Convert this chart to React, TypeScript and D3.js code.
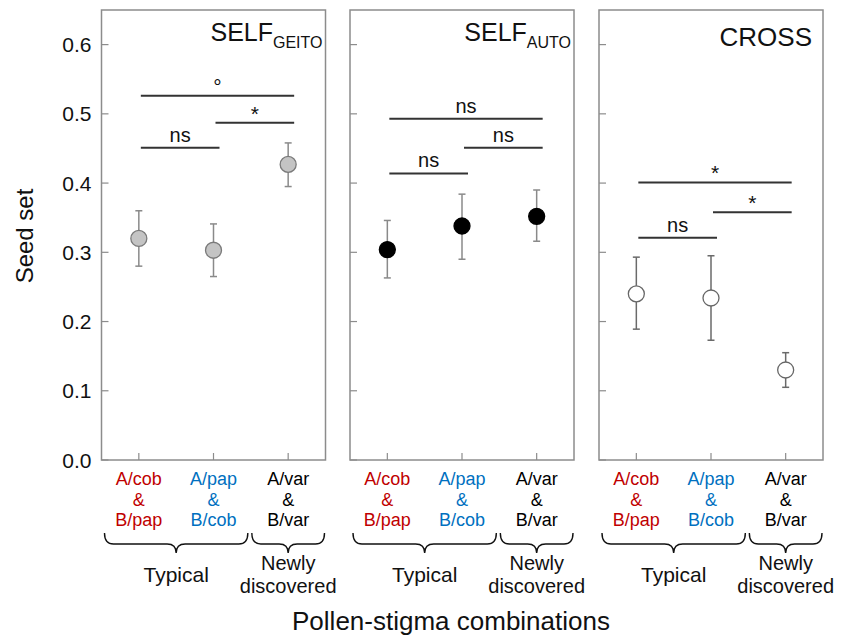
import React from 'react';
import * as d3 from 'd3';

// categories and panel titles
const categories = ['A/cob & B/pap', 'A/pap & B/cob', 'A/var & B/var'];
const catColors = ['#c00000', '#0070c0', '#000000'];
const titleMain = ['SELF', 'SELF', 'CROSS'];
const titleSub = ['GEITO', 'AUTO', ''];
const yTicks = [0, 0.1, 0.2, 0.3, 0.4, 0.5, 0.6];

// seed set means and error bar ends, per panel
const geitoMean = [0.32, 0.303, 0.427];
const geitoHigh = [0.36, 0.341, 0.458];
const geitoLow = [0.28, 0.265, 0.395];
const autoMean = [0.304, 0.338, 0.352];
const autoHigh = [0.346, 0.384, 0.39];
const autoLow = [0.263, 0.29, 0.316];
const crossMean = [0.24, 0.234, 0.13];
const crossHigh = [0.293, 0.295, 0.155];
const crossLow = [0.189, 0.173, 0.105];

// significance brackets: [from, to, y, label]
const geitoSig: [number, number, number, string][] = [
  [0, 1, 0.451, 'ns'],
  [1, 2, 0.487, '*'],
  [0, 2, 0.526, '°'],
];
const autoSig: [number, number, number, string][] = [
  [0, 1, 0.414, 'ns'],
  [1, 2, 0.451, 'ns'],
  [0, 2, 0.493, 'ns'],
];
const crossSig: [number, number, number, string][] = [
  [0, 1, 0.321, 'ns'],
  [1, 2, 0.358, '*'],
  [0, 2, 0.401, '*'],
];

const panels = [
  { mean: geitoMean, hi: geitoHigh, lo: geitoLow, sig: geitoSig, fill: '#c4c4c4', stroke: '#7a7a7a', err: '#8a8a8a' },
  { mean: autoMean, hi: autoHigh, lo: autoLow, sig: autoSig, fill: '#000000', stroke: '#000000', err: '#8a8a8a' },
  { mean: crossMean, hi: crossHigh, lo: crossLow, sig: crossSig, fill: '#ffffff', stroke: '#666666', err: '#6a6a6a' },
];

const FONT = '"Liberation Sans", Arial, Helvetica, sans-serif';
const W = 843;
const H = 639;
const top = 10;
const bottom = 460;
const panelW = 224;
const panelLefts = [101.5, 350, 599];

const y = d3.scaleLinear().domain([0, 0.65]).range([bottom, top]);

function brace(x0: number, x1: number, y0: number) {
  const ym = y0 + 11;
  const tip = y0 + 20;
  const xc = (x0 + x1) / 2;
  const r = 9;
  return `M${x0},${y0} Q${x0},${ym} ${x0 + r},${ym} L${xc - r},${ym} Q${xc},${ym} ${xc},${tip} Q${xc},${ym} ${xc + r},${ym} L${x1 - r},${ym} Q${x1},${ym} ${x1},${y0}`;
}

const Panel = ({ idx }: { idx: number }) => {
  const p = panels[idx];
  const left = panelLefts[idx];
  const x = d3.scaleBand<number>().domain([0, 1, 2]).range([left, left + panelW]);
  const cx = (i: number) => (x(i) as number) + x.bandwidth() / 2;
  const half = x.bandwidth() / 2;
  const right = left + panelW;
  const axisColor = '#8c8c8c';
  return (
    <g>
      <rect x={left} y={top} width={panelW} height={bottom - top} fill="none" stroke={axisColor} strokeWidth={1.5} />
      {yTicks.map((t) => (
        <line key={t} x1={left} x2={left + 7} y1={y(t)} y2={y(t)} stroke={axisColor} strokeWidth={1.2} />
      ))}
      {[0, 1, 2].map((i) => (
        <line key={i} x1={cx(i)} x2={cx(i)} y1={bottom} y2={bottom - 7} stroke={axisColor} strokeWidth={1.2} />
      ))}
      {idx === 0 &&
        yTicks.map((t) => (
          <text key={t} x={left - 10} y={y(t)} dy="0.36em" textAnchor="end" fontSize={21} fill="#111">
            {t.toFixed(1)}
          </text>
        ))}
      <text
        x={titleSub[idx] ? right - 3 : right - 11}
        y={titleSub[idx] ? 41 : 46}
        textAnchor="end"
        fontSize={titleSub[idx] ? 25 : 26}
        fill="#111"
      >
        <tspan>{titleMain[idx]}</tspan>
        {titleSub[idx] && (
          <tspan fontSize={16} dy={7}>
            {titleSub[idx]}
          </tspan>
        )}
      </text>
      {p.sig.map(([a, b, v, lab], k) => {
        const x1 = cx(a) + 2;
        const x2 = cx(b) + 6;
        const yy = y(v);
        return (
          <g key={k}>
            <line x1={x1} x2={x2} y1={yy} y2={yy} stroke="#333" strokeWidth={2} />
            <text
              x={(x1 + x2) / 2}
              y={lab === 'ns' ? yy - 6 : yy - 2}
              textAnchor="middle"
              fontSize={lab === 'ns' ? 20 : 21}
              fill="#111"
            >
              {lab}
            </text>
          </g>
        );
      })}
      {p.mean.map((m, i) => (
        <g key={i}>
          <line x1={cx(i)} x2={cx(i)} y1={y(p.hi[i])} y2={y(p.lo[i])} stroke={p.err} strokeWidth={1.5} />
          <line x1={cx(i) - 3.5} x2={cx(i) + 3.5} y1={y(p.hi[i])} y2={y(p.hi[i])} stroke={p.err} strokeWidth={1.5} />
          <line x1={cx(i) - 3.5} x2={cx(i) + 3.5} y1={y(p.lo[i])} y2={y(p.lo[i])} stroke={p.err} strokeWidth={1.5} />
          <circle cx={cx(i)} cy={y(m)} r={8} fill={p.fill} stroke={p.stroke} strokeWidth={1.3} />
        </g>
      ))}
      {categories.map((c, i) => {
        const [l1, l2] = c.split(' & ');
        return (
          <g key={i} fontSize={18} fill={catColors[i]} textAnchor="middle">
            <text x={cx(i)} y={485}>{l1}</text>
            <text x={cx(i)} y={505.5}>&amp;</text>
            <text x={cx(i)} y={526}>{l2}</text>
          </g>
        );
      })}
      <path d={brace(cx(0) - half + 3, cx(1) + half - 3, 533)} fill="none" stroke="#111" strokeWidth={1.4} />
      <path d={brace(cx(2) - half + 1, cx(2) + half - 1, 533)} fill="none" stroke="#111" strokeWidth={1.4} />
      <text x={(cx(0) + cx(1)) / 2} y={582} textAnchor="middle" fontSize={21} fill="#111">
        Typical
      </text>
      <g fontSize={20} fill="#111" textAnchor="middle">
        <text x={cx(2)} y={570}>Newly</text>
        <text x={cx(2)} y={593}>discovered</text>
      </g>
    </g>
  );
};

export default function App() {
  return (
    <svg
      width={W}
      height={H}
      style={{ position: 'absolute', left: 0, top: 0, background: '#fff' }}
      fontFamily={FONT}
    >
      {[0, 1, 2].map((i) => (
        <Panel key={i} idx={i} />
      ))}
      <text transform="translate(33,236) rotate(-90)" textAnchor="middle" fontSize={24} fill="#111">
        Seed set
      </text>
      <text x={451} y={630} textAnchor="middle" fontSize={26} fill="#111">
        Pollen-stigma combinations
      </text>
    </svg>
  );
}
